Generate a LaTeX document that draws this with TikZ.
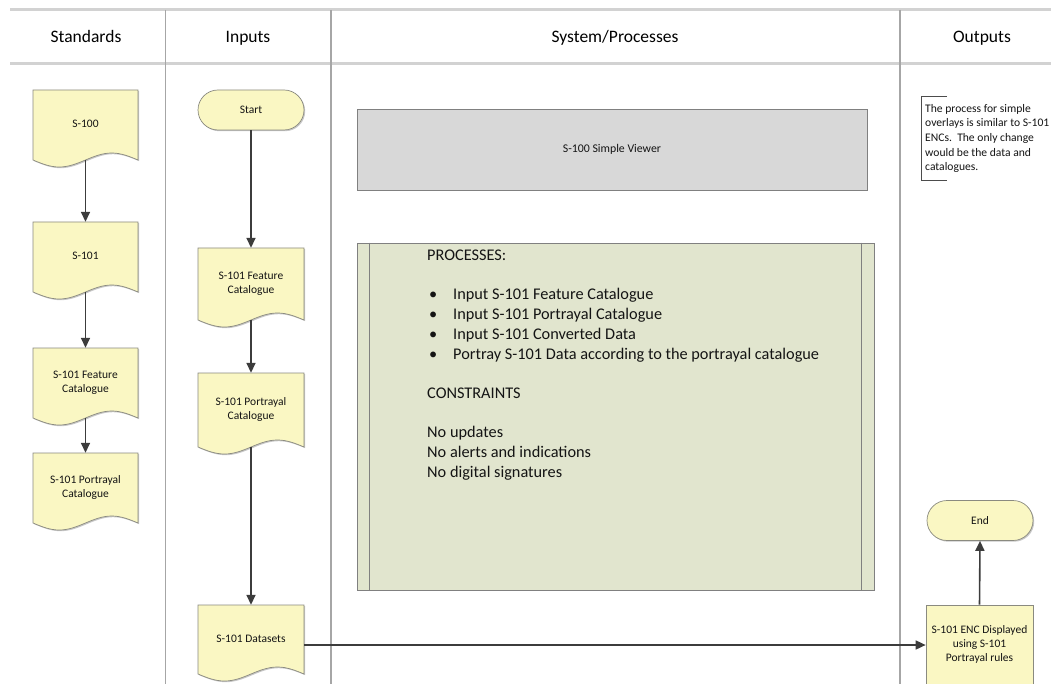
\documentclass[tikz,border=0pt]{standalone}
\usepackage{fontspec}
\setmainfont{Carlito}
\usetikzlibrary{arrows.meta,shapes.misc,shadows}

\definecolor{docfill}{HTML}{FAF7C3}
\definecolor{docedge}{HTML}{8A8A80}
\definecolor{procfill}{HTML}{E1E5CE}
\definecolor{viewfill}{HTML}{D8D8D8}
\definecolor{lanerule}{HTML}{A6A6A6}
\definecolor{headrule}{HTML}{D2D2D2}
\definecolor{connect}{HTML}{3C3C3C}
\definecolor{ink}{HTML}{141414}

\tikzset{
  softshadow/.style={drop shadow={shadow xshift=1.2pt,shadow yshift=-1.2pt,fill=black,opacity=0.22}},
  docline/.style={fill=docfill,draw=docedge,line width=0.7pt,softshadow},
  doctext/.style={draw=none,inner sep=0pt,align=center,text=ink,
    font=\fontsize{11.5}{14}\selectfont},
  termbox/.style={rounded rectangle,fill=docfill,draw=docedge,line width=0.7pt,
    minimum width=106pt,minimum height=40pt,inner sep=0pt,softshadow,
    text=ink,font=\fontsize{11.5}{14}\selectfont},
  procbox/.style={rectangle,fill=docfill,draw=docedge,line width=0.7pt,softshadow,
    inner sep=0pt,align=center,text=ink,font=\fontsize{11.5}{14}\selectfont},
  head/.style={inner sep=0pt,anchor=base,text=black,font=\fontsize{17.5}{20}\selectfont},
  conn/.style={draw=connect,line width=1.6pt,-{Triangle[length=10pt,width=9pt]}},
  lane/.style={draw=lanerule,line width=1.1pt},
  band/.style={draw=headrule,line width=3pt},
}

% document symbol: flat top, wavy bottom edge
\newcommand\docnode[6]{%
  \path[docline] (#2,#3) -- (#4,#3) -- (#4,#5)
    sin ({#4-(#4-#2)/4},{#5-7}) cos ({(#2+#4)/2},#5)
    sin ({#2+(#4-#2)/4},{#5+7}) cos (#2,#5) -- cycle;
  \node[doctext,minimum width={(#4-#2)*1pt},minimum height={(#5-#3)*1pt}]
    (#1) at ({(#2+#4)/2},{(#3+#5)/2}) {\raisebox{2pt}{\begin{tabular}{@{}c@{}}#6\end{tabular}}};
}

\begin{document}
\begin{tikzpicture}[x=1pt,y=-1pt]
\useasboundingbox[fill=white] (0,0) rectangle (1051,684);

% swimlane frame
\draw[band] (10,10) -- (1051,10);
\draw[band] (10,64) -- (1051,64);
\draw[lane] (165.5,10) -- (165.5,684);
\draw[lane] (331,10) -- (331,684);
\draw[lane] (900,10) -- (900,684);

\node[head] (hstd) at (86,43) {Standards};
\node[head] (hin)  at (248,43) {Inputs};
\node[head] (hsys) at (615,43) {System/Processes};
\node[head] (hout) at (982,43) {Outputs};

% Standards lane
\docnode{s100}{33}{90}{138}{160}{S-100}
\docnode{s101}{33}{222}{138}{292}{S-101}
\docnode{sfc}{33}{348}{138}{418}{S-101 Feature\\Catalogue}
\docnode{spc}{33}{453}{138}{523}{S-101 Portrayal\\Catalogue}

\draw[conn] (s100.south) -- (s101.north);
\draw[conn] (s101.south) -- (sfc.north);
\draw[conn] (sfc.south) -- (spc.north);

% Inputs lane
\node[termbox] (start) at (251,110) {Start};
\docnode{ifc}{198}{248}{304}{320}{S-101 Feature\\Catalogue}
\docnode{ipc}{198}{373}{304}{447}{S-101 Portrayal\\Catalogue}
\docnode{ids}{198}{605}{304}{674}{S-101 Datasets}

\draw[conn] (start.south) -- (ifc.north);
\draw[conn] (ifc.south) -- (ipc.north);
\draw[conn] (ipc.south) -- (ids.north);

% System/Processes lane
\node[rectangle,fill=viewfill,draw=gray,line width=0.8pt,softshadow,
  minimum width=510pt,minimum height=81pt,inner sep=0pt,text=ink,
  font=\fontsize{11.8}{14}\selectfont] (viewer) at (612,149.5) {\raisebox{-2pt}{S-100 Simple Viewer}};

\node[rectangle,fill=procfill,draw=gray,line width=0.8pt,softshadow,
  minimum width=517pt,minimum height=347pt,inner sep=0pt] (proc) at (615.5,416.5) {};
\draw[draw=gray,line width=0.8pt] ([xshift=13pt]proc.north west) -- ([xshift=13pt]proc.south west);
\draw[draw=gray,line width=0.8pt] ([xshift=-13pt]proc.north east) -- ([xshift=-13pt]proc.south east);

\node[anchor=north west,inner sep=0pt,align=left,text=ink,
  font=\fontsize{16.3}{20}\selectfont] (proctext) at (427,249.5) {%
PROCESSES:\\[19pt]
\hspace*{2pt}\makebox[24pt][l]{\textbullet}Input S-101 Feature Catalogue\\
\hspace*{2pt}\makebox[24pt][l]{\textbullet}Input S-101 Portrayal Catalogue\\
\hspace*{2pt}\makebox[24pt][l]{\textbullet}Input S-101 Converted Data\\
\hspace*{2pt}\makebox[24pt][l]{\textbullet}Portray S-101 Data according to the portrayal catalogue\\[19pt]
CONSTRAINTS\\[19pt]
No updates\\
No alerts and indications\\
No digital signatures};

% Outputs lane
\draw[draw=black!70,line width=0.9pt] (947,96) -- (921,96) -- (921,180) -- (947,180);
\node[anchor=north west,inner sep=0pt,align=left,text=ink,
  font=\fontsize{11.6}{14.6}\selectfont] (note) at (925,104) {%
The process for simple\\
overlays is similar to S-101\\
ENCs.\ \ The only change\\
would be the data and\\
catalogues.};

\node[termbox] (end) at (980,520.5) {End};
\node[procbox,minimum width=107pt,minimum height=80pt] (enc) at (979.5,645)
  {\raisebox{-1pt}{\begin{tabular}{@{}c@{}}S-101 ENC Displayed\\using S-101\\Portrayal rules\end{tabular}}};

\draw[conn] (enc.north) -- (end.south);
\draw[conn] (ids.east |- enc.west) -- (enc.west);
\end{tikzpicture}
\end{document}
